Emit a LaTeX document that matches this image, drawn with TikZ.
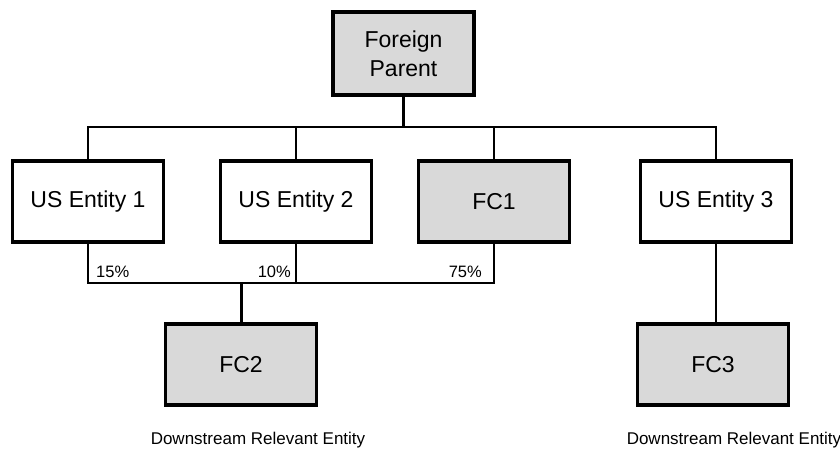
\documentclass[tikz,border=0pt]{standalone}
\usepackage{fontspec}
\setmainfont{Liberation Sans}
\usetikzlibrary{calc,positioning}
\definecolor{boxgray}{RGB}{217,217,217}
\definecolor{ink}{RGB}{0,0,0}
\tikzset{
  ent/.style={draw=ink,line width=3.6pt,fill=white,minimum width=151pt,minimum height=81pt,
    align=center,font=\fontsize{23}{29}\selectfont},
  entfc/.style={ent,fill=boxgray},
  link/.style={ink,line width=1.2pt},
  stem/.style={ink,line width=3pt},
  pct/.style={font=\fontsize{16.5}{18}\selectfont,inner sep=0pt},
  note/.style={font=\fontsize{17}{19}\selectfont,inner sep=0pt},
}
\begin{document}
\begin{tikzpicture}[x=1pt,y=1pt]
  \useasboundingbox (0,0) rectangle (840,450);
  % owners and subsidiaries
  \node[entfc,minimum width=141pt,minimum height=83pt] (fp) at (403.5,396.5) {Foreign\\Parent};
  \node[ent] (us1) at (88,248.5) {US Entity 1};
  \node[ent] (us2) at (296,248.5) {US Entity 2};
  \node[entfc] (fc1) at (494,248.5) {FC1};
  \node[ent] (us3) at (716,248.5) {US Entity 3};
  \node[entfc] (fc2) at (241,85.5) {FC2};
  \node[entfc] (fc3) at (713,85.5) {FC3};
  \coordinate (bus) at (fp.south |- 0,323);
  \coordinate (own) at (fc2.north |- 0,167);
  % top ownership
  \draw[link] (us1.north) |- (bus) -| (us3.north);
  \draw[link] (us2.north) -- (us2.north |- bus);
  \draw[link] (fc1.north) -- (fc1.north |- bus);
  \draw[stem] (fp.south) -- (bus);
  % FC2 holdings
  \draw[link] (us1.south) |- (own) -| (fc1.south);
  \draw[link] (us2.south) -- (us2.south |- own);
  \draw[stem] (own) -- (fc2.north);
  \draw[link] (us3.south) -- (us3.south |- fc3.north);
  \node[pct,anchor=west] (p15) at ($(us1.south |- own)+(8,11)$) {15\%};
  \node[pct,anchor=east] (p10) at ($(us2.south |- own)+(-5,11)$) {10\%};
  \node[pct,anchor=east] (p75) at ($(fc1.south |- own)+(-12,11)$) {75\%};
  \node[note] (d2) at (258,10) {Downstream Relevant Entity};
  \node[note] (d3) at (734,10) {Downstream Relevant Entity};
\end{tikzpicture}
\end{document}
